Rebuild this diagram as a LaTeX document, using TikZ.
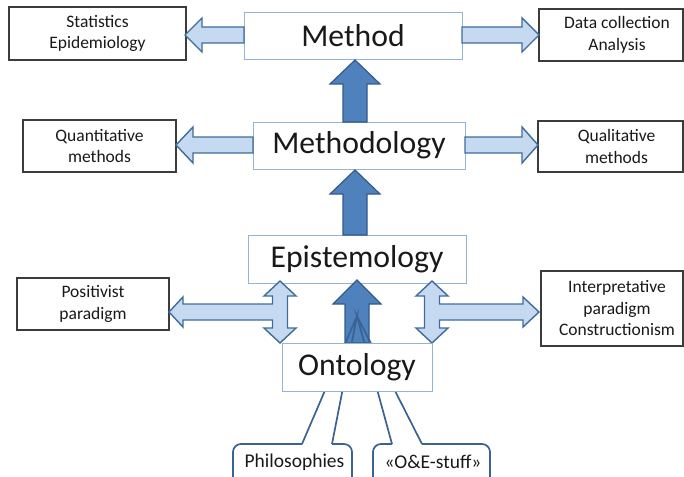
\documentclass[tikz,border=0pt]{standalone}
\usepackage{fontspec}
\setmainfont{Carlito}
\definecolor{sidegray}{RGB}{60,60,60}
\definecolor{mainblue}{RGB}{149,179,215}
\definecolor{lightfill}{RGB}{197,217,241}
\definecolor{arrowline}{RGB}{63,108,155}
\definecolor{darkfill}{RGB}{79,129,189}
\definecolor{darkline}{RGB}{52,90,138}
\definecolor{calloutline}{RGB}{58,98,146}
\definecolor{txt}{RGB}{25,25,25}
\begin{document}
\begin{tikzpicture}[x=1pt,y=-1pt,
  sidebox/.style={draw=sidegray, line width=1.1pt, fill=white, align=center, inner sep=0pt, text=txt,
    font=\fontsize{17.5}{21.5}\selectfont},
  mainbox/.style={draw=mainblue, line width=0.9pt, fill=white, inner sep=0pt, text=txt,
    font=\fontsize{31.7}{36}\selectfont},
  lightarrow/.style={fill=lightfill, draw=arrowline, line width=1.4pt, line join=miter},
  darkarrow/.style={fill=darkfill, draw=darkline, line width=1.2pt, line join=miter},
  callout/.style={draw=calloutline, line width=1.7pt},
  callouttext/.style={inner sep=0pt, text=txt, font=\fontsize{19.5}{22}\selectfont}
]
\useasboundingbox (0,0) rectangle (684,476);

% side boxes
\node[sidebox, minimum width=177pt, minimum height=53pt] (stat) at (97.5,33.5) {Statistics\\Epidemiology};
\node[sidebox, minimum width=144pt, minimum height=52pt] (data) at (611,35) {\hspace*{12pt}Data collection\\\hspace*{12pt}Analysis};
\node[sidebox, minimum width=153pt, minimum height=52pt] (quant) at (99.5,146) {Quantitative\\methods};
\node[sidebox, minimum width=145pt, minimum height=51pt] (qual) at (610.5,146.5) {\hspace*{12pt}Qualitative\\\hspace*{12pt}methods};
\node[sidebox, minimum width=152pt, minimum height=52pt] (posit) at (93,304) {Positivist\\paradigm};
\node[sidebox, minimum width=142pt, minimum height=75pt] (interp) at (612,308.5) {\hspace*{10pt}Interpretative\\\hspace*{10pt}paradigm\\\hspace*{10pt}Constructionism};

% main boxes
\node[mainbox, minimum width=218pt, minimum height=47pt] (method) at (353,35.5) {Method};
\node[mainbox, minimum width=212pt, minimum height=47pt] (methodology) at (359,145.5) {Methodology};
\node[mainbox, minimum width=218pt, minimum height=48pt] (epist) at (357,259) {Epistemology};

% light block arrows, row 1
\draw[lightarrow] (244,27) -- (202,27) -- (202,18) -- (185,35) -- (202,52) -- (202,43) -- (244,43) -- cycle;
\draw[lightarrow] (462,27) -- (522,27) -- (522,18) -- (539,35) -- (522,52) -- (522,43) -- (462,43) -- cycle;
% row 2
\draw[lightarrow] (253,137) -- (193,137) -- (193,127) -- (176,145) -- (193,163) -- (193,153) -- (253,153) -- cycle;
\draw[lightarrow] (465,137) -- (522,137) -- (522,127) -- (538,145) -- (522,163) -- (522,153) -- (465,153) -- cycle;
% T-shaped arrows
\draw[lightarrow] (169,312) -- (183,297) -- (183,304) -- (272.5,304) -- (272.5,296) -- (264,296) -- (280,281)
  -- (296,296) -- (287.5,296) -- (287.5,328) -- (296,328) -- (280,343) -- (264,328) -- (272.5,328)
  -- (272.5,320) -- (183,320) -- (183,327) -- cycle;
\draw[lightarrow] (539,312) -- (523,297) -- (523,304) -- (439.5,304) -- (439.5,296) -- (448,296) -- (432,281)
  -- (416,296) -- (424.5,296) -- (424.5,328) -- (416,328) -- (432,343) -- (448,328) -- (439.5,328)
  -- (439.5,320) -- (523,320) -- (523,327) -- cycle;

% dark block arrows
\draw[darkarrow] (343,122) -- (343,84) -- (330,84) -- (355,60) -- (380,84) -- (367,84) -- (367,122) -- cycle;
\draw[darkarrow] (343,235) -- (343,194) -- (330,194) -- (355,170) -- (380,194) -- (367,194) -- (367,235) -- cycle;
\draw[darkarrow] (345,343) -- (345,304) -- (333,304) -- (357,280) -- (381,304) -- (369,304) -- (369,343) -- cycle;

% callouts
\coordinate (tip) at (357,316);
\draw[callout, rounded corners=8pt] (302,444) -- (233,444) -- (233,495) -- (352,495) -- (352,444) -- (332,444);
\draw[callout, line join=miter] (302,444) -- (tip) -- (332,444);
\draw[callout, rounded corners=8pt] (392,444) -- (373,444) -- (373,495) -- (490,495) -- (490,444) -- (422,444);
\draw[callout, line join=miter] (392,444) -- (tip) -- (422,444);

% ontology on top
\node[mainbox, minimum width=150pt, minimum height=48pt] (onto) at (357,367) {Ontology};

\node[callouttext] (phil) at (294.5,462) {Philosophies};
\node[callouttext] (oe) at (433,462) {«O\&E-stuff»};
\end{tikzpicture}
\end{document}
